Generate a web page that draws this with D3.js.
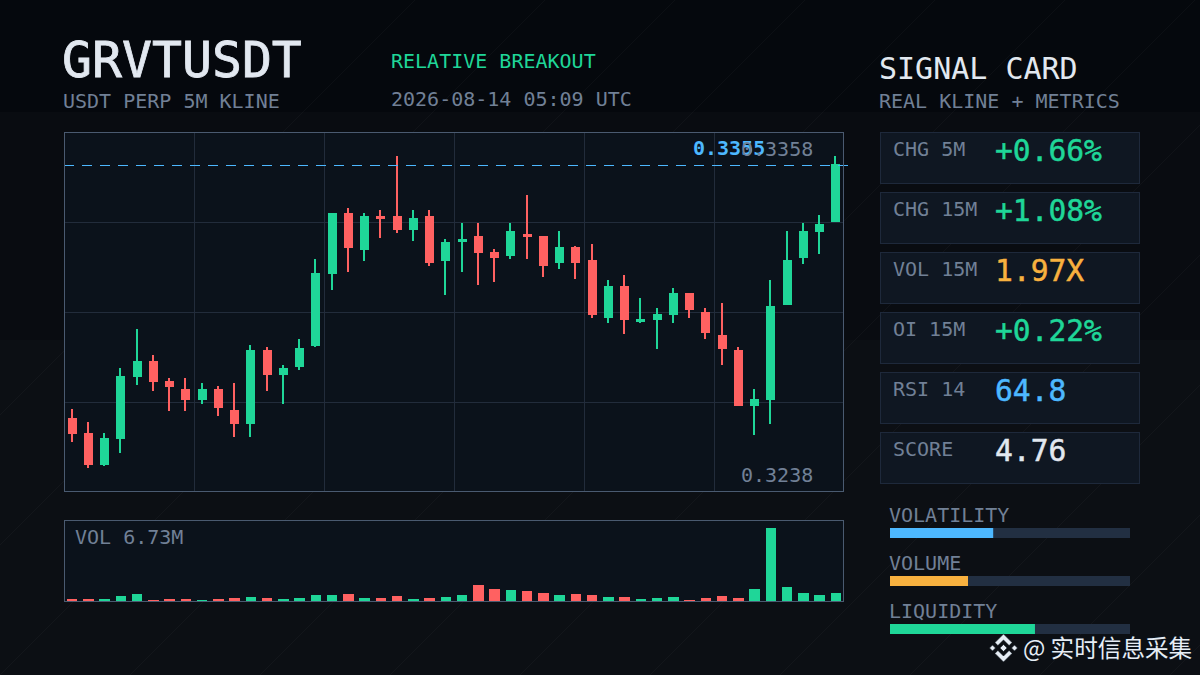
<!DOCTYPE html>
<html>
<head>
<meta charset="utf-8">
<script src="https://cdn.jsdelivr.net/npm/d3@7"></script>
<style>
    html, body { margin: 0; padding: 0; background: #05080d; }
    svg { display: block; }
    text { font-family: "DejaVu Sans Mono", monospace; }
</style>
</head>
<body>
<svg id="chart" width="1200" height="675"></svg>
<script>
/* kline values */
const opens = [0.32572, 0.32515, 0.32392, 0.32492, 0.32730, 0.32792, 0.32715, 0.32684, 0.32642, 0.32684, 0.32603, 0.32549,
    0.32834, 0.32738, 0.32769, 0.32849, 0.33126, 0.33361, 0.33218, 0.33349, 0.33349, 0.33295, 0.33349, 0.33176,
    0.33249, 0.33272, 0.33211, 0.33195, 0.33280, 0.33272, 0.33168, 0.33230, 0.33180, 0.32957, 0.33080, 0.32942,
    0.32949, 0.32968, 0.33053, 0.32980, 0.32892, 0.32834, 0.32618, 0.32642, 0.33007, 0.33188, 0.33288, 0.33326];
const highs = [0.32607, 0.32557, 0.32515, 0.32765, 0.32915, 0.32815, 0.32726, 0.32726, 0.32707, 0.32695, 0.32707, 0.32853,
    0.32845, 0.32776, 0.32876, 0.33184, 0.33361, 0.33380, 0.33361, 0.33372, 0.33580, 0.33372, 0.33372, 0.33261,
    0.33322, 0.33322, 0.33222, 0.33322, 0.33430, 0.33272, 0.33292, 0.33234, 0.33242, 0.33103, 0.33122, 0.33034,
    0.32995, 0.33072, 0.33053, 0.32995, 0.33015, 0.32845, 0.32684, 0.33103, 0.33292, 0.33322, 0.33353, 0.33580];
const lows = [0.32480, 0.32380, 0.32388, 0.32438, 0.32699, 0.32676, 0.32599, 0.32599, 0.32626, 0.32580, 0.32499, 0.32499,
    0.32676, 0.32626, 0.32757, 0.32845, 0.33065, 0.33134, 0.33176, 0.33265, 0.33284, 0.33253, 0.33157, 0.33045,
    0.33134, 0.33084, 0.33095, 0.33184, 0.33184, 0.33115, 0.33145, 0.33107, 0.32957, 0.32938, 0.32895, 0.32938,
    0.32838, 0.32938, 0.32957, 0.32876, 0.32776, 0.32618, 0.32507, 0.32549, 0.33007, 0.33165, 0.33203, 0.33326];
const closes = [0.32511, 0.32392, 0.32495, 0.32734, 0.32792, 0.32711, 0.32692, 0.32642, 0.32684, 0.32611, 0.32549, 0.32834,
    0.32738, 0.32765, 0.32842, 0.33130, 0.33361, 0.33226, 0.33349, 0.33338, 0.33295, 0.33342, 0.33168, 0.33249,
    0.33261, 0.33207, 0.33188, 0.33292, 0.33268, 0.33157, 0.33230, 0.33168, 0.32968, 0.33080, 0.32949, 0.32953,
    0.32972, 0.33053, 0.32988, 0.32899, 0.32838, 0.32618, 0.32645, 0.33003, 0.33180, 0.33292, 0.33318, 0.33549];
/* volume in millions, one per candle */
const volumes = [0.18, 0.18, 0.18, 0.46, 0.65, 0.09, 0.18, 0.18, 0.09, 0.18, 0.28, 0.37,
    0.28, 0.18, 0.28, 0.55, 0.55, 0.65, 0.28, 0.28, 0.46, 0.18, 0.28, 0.37,
    0.55, 1.48, 1.11, 1.01, 0.92, 0.74, 0.55, 0.65, 0.55, 0.37, 0.37, 0.18,
    0.28, 0.37, 0.09, 0.28, 0.46, 0.28, 1.11, 6.73, 1.29, 0.74, 0.55, 0.74];
const priceMin = 0.3238;
const priceMax = 0.3358;
const lastPrice = 0.33546;

const metricLabels = ["CHG 5M", "CHG 15M", "VOL 15M", "OI 15M", "RSI 14", "SCORE"];
const metricValues = ["+0.66%", "+1.08%", "1.97X", "+0.22%", "64.8", "4.76"];
const meterLabels = ["VOLATILITY", "VOLUME", "LIQUIDITY"];
const meterValues = [0.43, 0.325, 0.604];

/* colors */
const green = "#1fd698";
const red = "#ff6161";
const blue = "#4db8ff";
const orange = "#f8b13f";
const white = "#e2e8f0";
const gray = "#718096";
const metricColors = [green, green, orange, green, blue, white];
const meterColors = [blue, orange, green];

const svg = d3.select("#chart");

/* background */
svg.append("rect").attr("width", 1200).attr("height", 675).attr("fill", "#0c0f14");
svg.append("rect").attr("width", 1200).attr("height", 340).attr("fill", "#090c11");
svg.append("rect").attr("width", 1200).attr("height", 112).attr("fill", "#05080d");

svg.append("g")
    .selectAll("line")
    .data(d3.range(-2, 15))
    .enter()
    .append("line")
    .attr("x1", d => d * 130)
    .attr("y1", 675)
    .attr("x2", d => d * 130 + 675)
    .attr("y2", 0)
    .attr("stroke", "#ffffff")
    .attr("stroke-opacity", 0.03);

/* header */
function addText(x, y, size, color, str) {
    return svg.append("text")
        .attr("x", x)
        .attr("y", y)
        .attr("font-size", size)
        .attr("fill", color)
        .style("white-space", "pre")
        .text(str);
}

addText(62, 77, 49.8, white, "GRVTUSDT").attr("stroke", white).attr("stroke-width", 0.8);
addText(63, 108, 20, gray, "USDT PERP 5M KLINE");
addText(391, 68, 20, green, "RELATIVE BREAKOUT");
addText(391, 106, 20, gray, "2026-08-14 05:09 UTC");
addText(879, 79, 30, white, "SIGNAL CARD");
addText(879, 108, 20, gray, "REAL KLINE + METRICS");

/* price panel */
const panel = { left: 64, right: 844, top: 132, bottom: 492 };
const x = d3.scaleBand()
    .domain(d3.range(opens.length))
    .range([panel.left, panel.right]);
const y = d3.scaleLinear()
    .domain([priceMin, priceMax])
    .range([panel.bottom - 24, panel.top + 24]);
const gridX = d3.scaleLinear().domain([0, 6]).range([panel.left, panel.right]);
const gridY = d3.scaleLinear().domain([0, 4]).range([panel.top, panel.bottom]);

svg.append("rect")
    .attr("x", panel.left + 0.5)
    .attr("y", panel.top + 0.5)
    .attr("width", panel.right - panel.left - 1)
    .attr("height", panel.bottom - panel.top - 1)
    .attr("fill", "#0b121b");

const grid = svg.append("g").attr("stroke", "#222c3b").attr("shape-rendering", "crispEdges");
grid.selectAll(".gridCol")
    .data(d3.range(1, 6))
    .enter()
    .append("line")
    .attr("x1", d => gridX(d) + 0.5)
    .attr("x2", d => gridX(d) + 0.5)
    .attr("y1", panel.top)
    .attr("y2", panel.bottom);
grid.selectAll(".gridRow")
    .data(d3.range(1, 4))
    .enter()
    .append("line")
    .attr("x1", panel.left)
    .attr("x2", panel.right)
    .attr("y1", d => gridY(d) + 0.5)
    .attr("y2", d => gridY(d) + 0.5);

/* candles */
const candles = svg.append("g").attr("shape-rendering", "crispEdges");
const isUp = i => closes[i] >= opens[i];
const candleColor = i => isUp(i) ? green : red;
const bodyLeft = i => Math.floor(x(i)) + 4;

candles.selectAll(".wick")
    .data(d3.range(opens.length))
    .enter()
    .append("rect")
    .attr("x", i => bodyLeft(i) + 3)
    .attr("width", 2)
    .attr("y", i => y(highs[i]))
    .attr("height", i => y(lows[i]) - y(highs[i]))
    .attr("fill", candleColor);

candles.selectAll(".body")
    .data(d3.range(opens.length))
    .enter()
    .append("rect")
    .attr("x", bodyLeft)
    .attr("width", 9)
    .attr("y", i => y(Math.max(opens[i], closes[i])))
    .attr("height", i => Math.abs(y(opens[i]) - y(closes[i])))
    .attr("fill", candleColor);

/* last price line */
svg.append("line")
    .attr("x1", panel.left)
    .attr("x2", panel.right + 4)
    .attr("y1", Math.round(y(lastPrice)) + 0.5)
    .attr("y2", Math.round(y(lastPrice)) + 0.5)
    .attr("stroke", blue)
    .attr("stroke-dasharray", "10 8")
    .attr("shape-rendering", "crispEdges");

addText(693, 155, 20, blue, d3.format(".4f")(lastPrice)).attr("font-weight", "bold");
addText(741, 156, 20, gray, d3.format(".4f")(priceMax));
addText(741, 482, 20, gray, d3.format(".4f")(priceMin));

svg.append("rect")
    .attr("x", panel.left + 0.5)
    .attr("y", panel.top + 0.5)
    .attr("width", panel.right - panel.left - 1)
    .attr("height", panel.bottom - panel.top - 1)
    .attr("fill", "none")
    .attr("stroke", "#4a5a70");

/* volume panel */
const volPanel = { top: 520, bottom: 601 };
const volY = d3.scaleLinear()
    .domain([0, d3.max(volumes)])
    .range([volPanel.bottom, volPanel.top + 8]);

svg.append("rect")
    .attr("x", panel.left + 0.5)
    .attr("y", volPanel.top + 0.5)
    .attr("width", panel.right - panel.left - 1)
    .attr("height", volPanel.bottom - volPanel.top)
    .attr("fill", "#0b121b");

svg.append("g")
    .attr("shape-rendering", "crispEdges")
    .selectAll("rect")
    .data(volumes)
    .enter()
    .append("rect")
    .attr("x", (d, i) => Math.round(x(i) + 2.99))
    .attr("width", (d, i) => Math.round(x(i) + 13.4) - Math.round(x(i) + 2.99))
    .attr("y", d => Math.round(volY(d)))
    .attr("height", d => volPanel.bottom - Math.round(volY(d)))
    .attr("fill", (d, i) => candleColor(i));

svg.append("rect")
    .attr("x", panel.left + 0.5)
    .attr("y", volPanel.top + 0.5)
    .attr("width", panel.right - panel.left - 1)
    .attr("height", volPanel.bottom - volPanel.top)
    .attr("fill", "none")
    .attr("stroke", "#4a5a70");

addText(75, 544, 20, gray, "VOL " + d3.max(volumes) + "M");

/* metric cards */
const cardY = d3.scaleBand()
    .domain(d3.range(metricLabels.length))
    .range([132, 492]);
const cards = svg.append("g")
    .selectAll("g")
    .data(metricLabels)
    .enter()
    .append("g")
    .attr("transform", (d, i) => "translate(880," + cardY(i) + ")");

cards.append("rect")
    .attr("x", 0.5)
    .attr("y", 0.5)
    .attr("width", 259)
    .attr("height", 51)
    .attr("fill", "#0f1722")
    .attr("stroke", "#1e293b");

cards.append("text")
    .attr("x", 13)
    .attr("y", 24)
    .attr("font-size", 20)
    .attr("fill", gray)
    .text(d => d);

cards.append("text")
    .attr("x", 115)
    .attr("y", 29)
    .attr("font-size", 29.6)
    .attr("fill", (d, i) => metricColors[i])
    .attr("stroke", (d, i) => metricColors[i])
    .attr("stroke-width", 0.5)
    .text((d, i) => metricValues[i]);

/* meters */
const meterX = d3.scaleLinear().domain([0, 1]).range([890, 1130]);
const meterRow = d3.scaleBand()
    .domain(d3.range(meterLabels.length))
    .range([504, 648]);
const meters = svg.append("g")
    .selectAll("g")
    .data(meterLabels)
    .enter()
    .append("g")
    .attr("transform", (d, i) => "translate(0," + meterRow(i) + ")");

meters.append("text")
    .attr("x", 889)
    .attr("y", 18)
    .attr("font-size", 20)
    .attr("fill", gray)
    .text(d => d);

meters.append("rect")
    .attr("x", meterX(0))
    .attr("y", 24)
    .attr("width", meterX(1) - meterX(0))
    .attr("height", 10)
    .attr("fill", "#222f42");

meters.append("rect")
    .attr("x", meterX(0))
    .attr("y", 24)
    .attr("width", (d, i) => meterX(meterValues[i]) - meterX(0))
    .attr("height", 10)
    .attr("fill", (d, i) => meterColors[i]);

/* watermark */
const mark = svg.append("g")
    .attr("transform", "translate(1003.5,648)")
    .attr("fill", "#e6edf5")
    .attr("stroke", "#0b121b")
    .attr("stroke-width", 0.6);
mark.append("path").attr("d", "M-3.6,0L0,-3.6L3.6,0L0,3.6Z");
mark.append("path").attr("d", "M-14,0L-11,-3L-8,0L-11,3Z");
mark.append("path").attr("d", "M14,0L11,-3L8,0L11,3Z");
mark.append("path").attr("d", "M0,-14L8.6,-5.4L5.6,-2.4L0,-8L-5.6,-2.4L-8.6,-5.4Z");
mark.append("path").attr("d", "M0,14L8.6,5.4L5.6,2.4L0,8L-5.6,2.4L-8.6,5.4Z");

svg.append("text")
    .attr("x", 1023)
    .attr("y", 657)
    .attr("font-size", 23.6)
    .attr("fill", "#e6edf5")
    .attr("stroke", "#0b121b")
    .attr("stroke-width", 2)
    .attr("paint-order", "stroke")
    .style("font-family", '"Noto Sans CJK SC", sans-serif')
    .text("@ 实时信息采集");
</script>
</body>
</html>
